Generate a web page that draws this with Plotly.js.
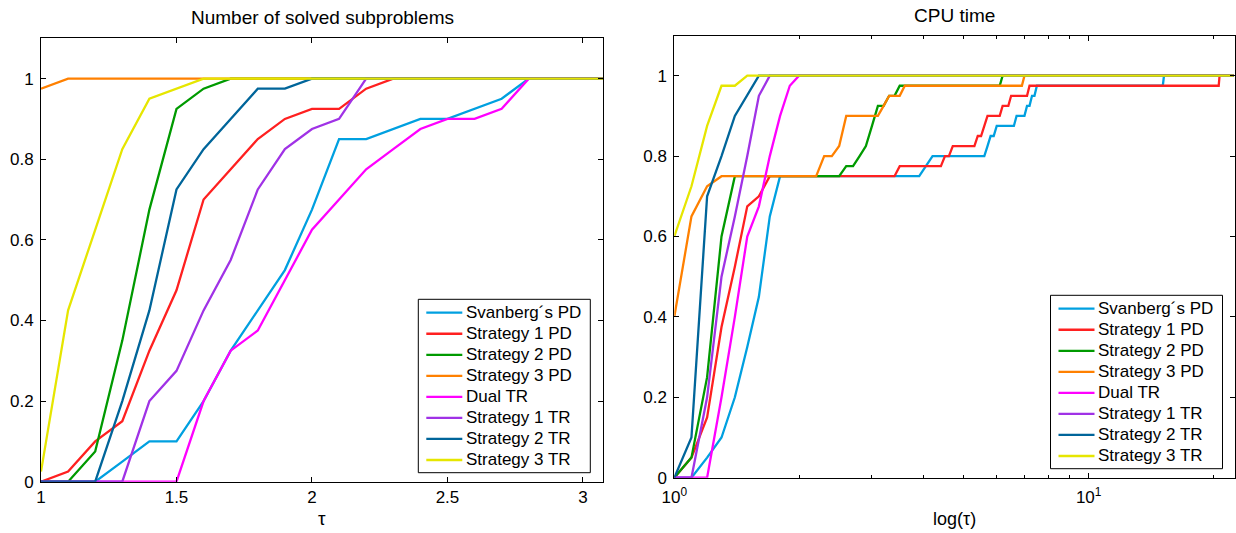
<!DOCTYPE html>
<html>
<head>
<meta charset="utf-8">
<script src="https://cdn.plot.ly/plotly-3.0.1.min.js"></script>
<style>html,body{margin:0;padding:0;background:#fff;}#chart{width:1236px;height:533px;}</style>
</head>
<body>
<div id="chart"></div>
<script>
// ---------- data ----------
const seriesNames = ["Svanberg\u00b4s PD","Strategy 1 PD","Strategy 2 PD","Strategy 3 PD","Dual TR","Strategy 1 TR","Strategy 2 TR","Strategy 3 TR"];
const seriesColors = ["#00a0e0","#ff2020","#009a00","#ff8000","#ff00ff","#a032e6","#00659a","#e6e600"];

// Left panel: number of solved subproblems, tau grid
const tauLeft = [1.0,1.1,1.2,1.3,1.4,1.5,1.6,1.7,1.8,1.9,2.0,2.1,2.2,2.3,2.4,2.5,2.6,2.7,2.8,2.9,3.0,3.1];
const leftSvanbergPD = [0,0,0,0.05,0.1,0.1,0.2,0.325,0.425,0.525,0.675,0.85,0.85,0.875,0.9,0.9,0.925,0.95,1,1,1,1];
const leftStrategy1PD = [0,0.025,0.1,0.15,0.325,0.475,0.7,0.775,0.85,0.9,0.925,0.925,0.975,1,1,1,1,1,1,1,1,1];
const leftStrategy2PD = [0,0,0.075,0.35,0.675,0.925,0.975,1,1,1,1,1,1,1,1,1,1,1,1,1,1,1];
const leftStrategy3PD = [0.975,1,1,1,1,1,1,1,1,1,1,1,1,1,1,1,1,1,1,1,1,1];
const leftDualTR = [0,0,0,0,0,0,0.2,0.325,0.375,0.5,0.625,0.7,0.775,0.825,0.875,0.9,0.9,0.925,1,1,1,1];
const leftStrategy1TR = [0,0,0,0,0.2,0.275,0.425,0.55,0.725,0.825,0.875,0.9,1,1,1,1,1,1,1,1,1,1];
const leftStrategy2TR = [0,0,0,0.2,0.425,0.725,0.825,0.9,0.975,0.975,1,1,1,1,1,1,1,1,1,1,1,1];
const leftStrategy3TR = [0.025,0.425,0.625,0.825,0.95,0.975,1,1,1,1,1,1,1,1,1,1,1,1,1,1,1,1];

// Right panel: CPU time (breakpoints of each profile)
const cpuSvanbergPD_x = [1,1.1,1.2,1.3,1.4,1.5,1.6,1.7,1.8,3.9,4.2,5.6,5.7,5.8,5.9,6.0,6.6,6.7,7.0,7.1,7.2,7.3,7.4,7.5,15.1,15.2,22.4];
const cpuSvanbergPD_y = [0,0,0.05,0.1,0.2,0.325,0.45,0.65,0.75,0.75,0.8,0.8,0.825,0.85,0.85,0.875,0.875,0.9,0.9,0.925,0.925,0.95,0.95,0.975,0.975,1,1];
const cpuStrategy1PD_x = [1,1.1,1.2,1.3,1.4,1.5,1.6,1.7,3.4,3.5,4.4,4.5,4.6,4.7,5.3,5.4,5.5,5.6,5.7,6.1,6.2,6.4,6.5,7.1,7.2,20.6,20.7,22.4];
const cpuStrategy1PD_y = [0,0.05,0.15,0.375,0.525,0.675,0.7,0.75,0.75,0.775,0.775,0.8,0.8,0.825,0.825,0.85,0.85,0.875,0.9,0.9,0.925,0.925,0.95,0.95,0.975,0.975,1,1];
const cpuStrategy2PD_x = [1,1.1,1.2,1.3,1.4,2.5,2.6,2.7,2.8,2.9,3.0,3.1,3.2,3.3,3.4,3.5,6.1,6.2,22.4];
const cpuStrategy2PD_y = [0,0.05,0.25,0.6,0.75,0.75,0.775,0.775,0.8,0.825,0.875,0.925,0.925,0.95,0.95,0.975,0.975,1,1];
const cpuStrategy3PD_x = [1,1.1,1.2,1.3,2.2,2.3,2.4,2.5,2.6,3.1,3.2,3.3,3.5,3.6,6.9,7.0,22.4];
const cpuStrategy3PD_y = [0.4,0.65,0.725,0.75,0.75,0.8,0.8,0.825,0.9,0.9,0.925,0.95,0.95,0.975,0.975,1,1];
const cpuDualTR_x = [1,1.1,1.2,1.3,1.4,1.5,1.6,1.7,1.8,1.9,2.0,22.4];
const cpuDualTR_y = [0,0,0,0.2,0.4,0.6,0.675,0.8,0.9,0.975,1,1];
const cpuStrategy1TR_x = [1,1.1,1.2,1.3,1.4,1.5,1.6,1.7,22.4];
const cpuStrategy1TR_y = [0,0,0.2,0.5,0.65,0.8,0.95,1,1];
const cpuStrategy2TR_x = [1,1.1,1.2,1.3,1.4,1.5,1.6,22.4];
const cpuStrategy2TR_y = [0,0.1,0.7,0.8,0.9,0.95,1,1];
const cpuStrategy3TR_x = [1,1.1,1.2,1.3,1.4,1.5,22.4];
const cpuStrategy3TR_y = [0.6,0.725,0.875,0.975,0.975,1,1];

const leftTitle = "Number of solved subproblems";
const rightTitle = "CPU time";
const leftXLabel = "\u03c4";
const rightXLabel = "log(\u03c4)";
const leftXTicks = [1,1.5,2,2.5,3];
const yTicks = [0,0.2,0.4,0.6,0.8,1];
const rightXTicks = [1,10];
const rightXTickText = ["10<sup>0</sup>","10<sup>1</sup>"];
const rightMinorTicks = [2,3,4,5,6,7,8,9,20];

// ---------- build ----------
const leftY = [leftSvanbergPD,leftStrategy1PD,leftStrategy2PD,leftStrategy3PD,leftDualTR,leftStrategy1TR,leftStrategy2TR,leftStrategy3TR];
const rightX = [cpuSvanbergPD_x,cpuStrategy1PD_x,cpuStrategy2PD_x,cpuStrategy3PD_x,cpuDualTR_x,cpuStrategy1TR_x,cpuStrategy2TR_x,cpuStrategy3TR_x];
const rightY = [cpuSvanbergPD_y,cpuStrategy1PD_y,cpuStrategy2PD_y,cpuStrategy3PD_y,cpuDualTR_y,cpuStrategy1TR_y,cpuStrategy2TR_y,cpuStrategy3TR_y];

const FONT = "Liberation Sans, Arial, Helvetica, sans-serif";
const LW = 2.3;
const traces = [];
seriesNames.forEach((n,i)=>{
  traces.push({x: tauLeft, y: leftY[i], name: n, type:'scatter', mode:'lines',
    line:{color: seriesColors[i], width:LW}, xaxis:'x', yaxis:'y', showlegend:false});
});
seriesNames.forEach((n,i)=>{
  traces.push({x: rightX[i], y: rightY[i], name: n, type:'scatter', mode:'lines',
    line:{color: seriesColors[i], width:LW}, xaxis:'x2', yaxis:'y2', showlegend:false});
});

const W = 1236, H = 533;
const axBase = {showline:true, linecolor:'#000', linewidth:1, mirror:'ticks', ticks:'inside',
  ticklen:5, tickcolor:'#000', tickwidth:1, showgrid:false, zeroline:false,
  tickfont:{family:FONT, size:17, color:'#000'}, fixedrange:true};

const annotations = [
  {text:leftTitle, xref:'paper', yref:'paper', x:322/W, y:1-17.5/H, xanchor:'center', yanchor:'middle', showarrow:false, font:{family:FONT, size:19, color:'#000'}},
  {text:rightTitle, xref:'paper', yref:'paper', x:954/W, y:1-15/H, xanchor:'center', yanchor:'middle', showarrow:false, font:{family:FONT, size:19, color:'#000'}},
  {text:leftXLabel, xref:'paper', yref:'paper', x:322/W, y:1-518/H, xanchor:'center', yanchor:'middle', showarrow:false, font:{family:FONT, size:19, color:'#000'}},
  {text:rightXLabel, xref:'paper', yref:'paper', x:955/W, y:1-519/H, xanchor:'center', yanchor:'middle', showarrow:false, font:{family:FONT, size:18, color:'#000'}}
];
const shapes = [];

// Legend boxes (MATLAB-style), drawn in paper space
function addLegend(box){
  shapes.push({type:'rect', xref:'paper', yref:'paper', x0:box.left/W, x1:box.right/W, y0:1-box.bottom/H, y1:1-box.top/H,
    line:{color:'#000', width:1}, fillcolor:'#fff', layer:'above'});
  seriesNames.forEach((n,i)=>{
    const yy = box.firstRow + i*box.rowStep;
    shapes.push({type:'line', xref:'paper', yref:'paper', x0:(box.left+8)/W, x1:(box.left+44)/W, y0:1-yy/H, y1:1-yy/H,
      line:{color:seriesColors[i], width:LW}, layer:'above'});
    annotations.push({text:n, xref:'paper', yref:'paper', x:(box.left+46.5)/W, y:1-yy/H, xanchor:'left', yanchor:'middle',
      showarrow:false, font:{family:FONT, size:17, color:'#000'}, borderpad:0});
  });
}
addLegend({left:418.3, right:590.3, top:299.3, bottom:472.7, firstRow:312.7, rowStep:21.04});
addLegend({left:1050.5, right:1222.5, top:295.3, bottom:468.7, firstRow:308.7, rowStep:21.04});

const layout = {
  width:W, height:H, autosize:false,
  margin:{l:0,r:0,t:0,b:0,pad:0},
  paper_bgcolor:'#fff', plot_bgcolor:'#fff',
  showlegend:false,
  xaxis: Object.assign({}, axBase, {domain:[41/W, 603/W], range:[1,3.074], tickvals:leftXTicks, anchor:'y'}),
  yaxis: Object.assign({}, axBase, {domain:[1-481.7/H, 1-38.3/H], range:[0,1.1], tickvals:yTicks, anchor:'x', ticklabelstandoff:3}),
  xaxis2: Object.assign({}, axBase, {type:'log', domain:[674.3/W, 1234.5/W], range:[0,1.352],
    tickvals:rightXTicks, ticktext:rightXTickText, anchor:'y2', ticklabelstandoff:4,
    minor:{tickvals:rightMinorTicks, ticks:'inside', ticklen:3, tickcolor:'#000', tickwidth:1, showgrid:false}}),
  yaxis2: Object.assign({}, axBase, {domain:[1-477.7/H, 1-35.5/H], range:[0,1.1], tickvals:yTicks, anchor:'x2', ticklabelstandoff:3}),
  annotations: annotations,
  shapes: shapes
};

Plotly.newPlot('chart', traces, layout, {displayModeBar:false, staticPlot:true});
</script>
</body>
</html>
